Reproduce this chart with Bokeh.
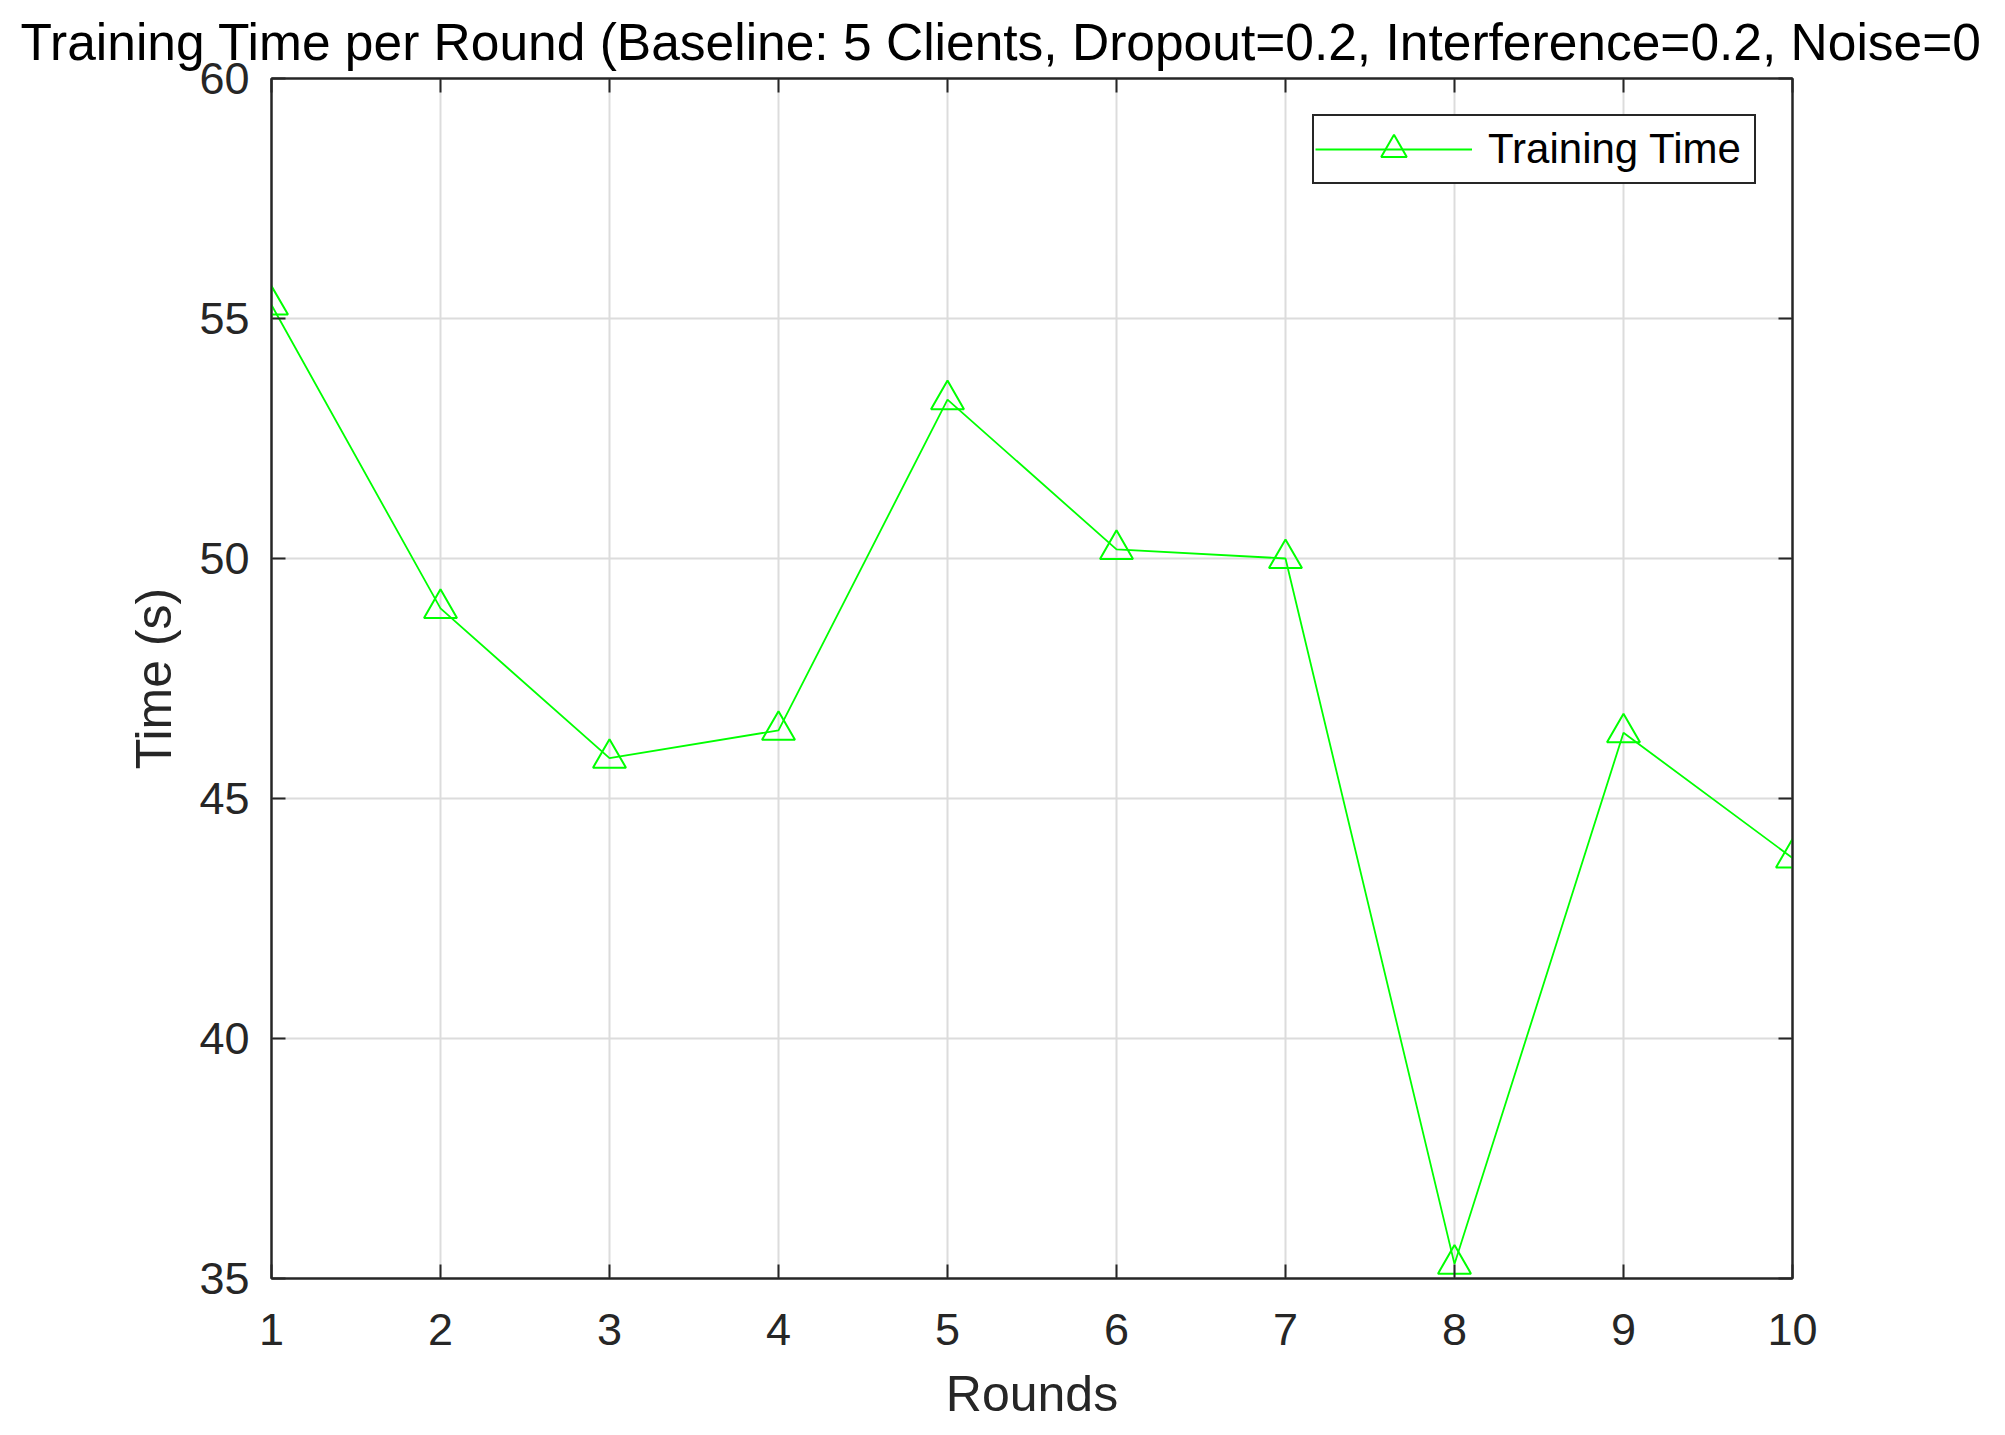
from bokeh.plotting import figure
from bokeh.models import (LinearAxis, Range1d, FixedTicker, Title, Legend, LegendItem)
from bokeh.embed import file_html
from bokeh.resources import INLINE

# ---- data ----
rounds = [1, 2, 3, 4, 5, 6, 7, 8, 9, 10]
training_time = [55.28, 48.96, 45.84, 46.42, 53.31, 50.19, 50.0, 35.3, 46.37, 43.76]
x_ticks = [1, 2, 3, 4, 5, 6, 7, 8, 9, 10]
y_ticks = [35, 40, 45, 50, 55, 60]
title_text = "Training Time per Round (Baseline: 5 Clients, Dropout=0.2, Interference=0.2, Noise=0"
x_label = "Rounds"
y_label = "Time (s)"
series_label = "Training Time"

FONT = "Liberation Sans"
AX = "#262626"
GREEN = "#00ff00"

W, H = 1989, 1424
p = figure(width=W, height=H, output_backend="svg", toolbar_location=None,
           x_range=Range1d(1, 10), y_range=Range1d(35, 60), title=None,
           min_border_left=271, min_border_right=W - 1792,
           min_border_top=78, min_border_bottom=100)
p.background_fill_color = "white"
p.border_fill_color = "white"
p.outline_line_color = AX
p.outline_line_width = 2

for ax in (p.xaxis[0], p.yaxis[0]):
    ax.axis_line_color = AX
    ax.axis_line_width = 2
    ax.major_tick_line_color = AX
    ax.major_tick_line_width = 2
    ax.major_tick_in = 14
    ax.major_tick_out = 0
    ax.minor_tick_line_color = None
    ax.major_label_text_font = FONT
    ax.major_label_text_font_size = "45px"
    ax.major_label_text_color = AX
    ax.axis_label_text_font = FONT
    ax.axis_label_text_font_size = "50px"
    ax.axis_label_text_font_style = "normal"
    ax.axis_label_text_color = AX

p.xaxis[0].ticker = FixedTicker(ticks=x_ticks)
p.yaxis[0].ticker = FixedTicker(ticks=y_ticks)
p.xaxis[0].axis_label = x_label
p.yaxis[0].axis_label = y_label
p.xaxis[0].major_label_standoff = 35
p.xaxis[0].axis_label_standoff = 18
p.yaxis[0].major_label_standoff = 22
p.yaxis[0].axis_label_standoff = 14

# mirrored tick-only axes on top and right
top = LinearAxis(ticker=FixedTicker(ticks=x_ticks))
right = LinearAxis(ticker=FixedTicker(ticks=y_ticks))
for ax in (top, right):
    ax.axis_line_color = AX
    ax.axis_line_width = 2
    ax.major_tick_line_color = AX
    ax.major_tick_line_width = 2
    ax.major_tick_in = 14
    ax.major_tick_out = 0
    ax.minor_tick_line_color = None
    ax.major_label_text_font_size = "1px"
    ax.major_label_text_color = None
    ax.major_label_standoff = 0
p.add_layout(top, "above")
p.add_layout(right, "right")

title = Title(text=title_text, text_font=FONT, text_font_size="51.5px",
              text_font_style="normal", text_color="black",
              align="left", offset=20 - 271, standoff=15)
p.add_layout(title, "above")

p.xgrid.ticker = FixedTicker(ticks=x_ticks)
p.ygrid.ticker = FixedTicker(ticks=y_ticks)
for g in (p.xgrid[0], p.ygrid[0]):
    g.grid_line_color = "#dcdcdc"
    g.grid_line_width = 2

ln = p.line(rounds, training_time, line_color=GREEN, line_width=1.8)
sc = p.scatter(rounds, training_time, marker="triangle", size=33,
               line_color=GREEN, line_width=2, fill_color=None)

legend = Legend(items=[LegendItem(label=series_label, renderers=[ln, sc])],
                location="top_right")
legend.margin = 36
legend.padding = 1
legend.glyph_width = 157
legend.glyph_height = 64
legend.label_standoff = 16
legend.label_width = 265
legend.label_text_font = FONT
legend.label_text_font_size = "42px"
legend.label_text_color = "black"
legend.border_line_color = AX
legend.border_line_width = 2
legend.border_line_alpha = 1
legend.background_fill_color = "white"
legend.background_fill_alpha = 1
p.add_layout(legend, "center")

open("out.html", "w").write(file_html(p, INLINE))
